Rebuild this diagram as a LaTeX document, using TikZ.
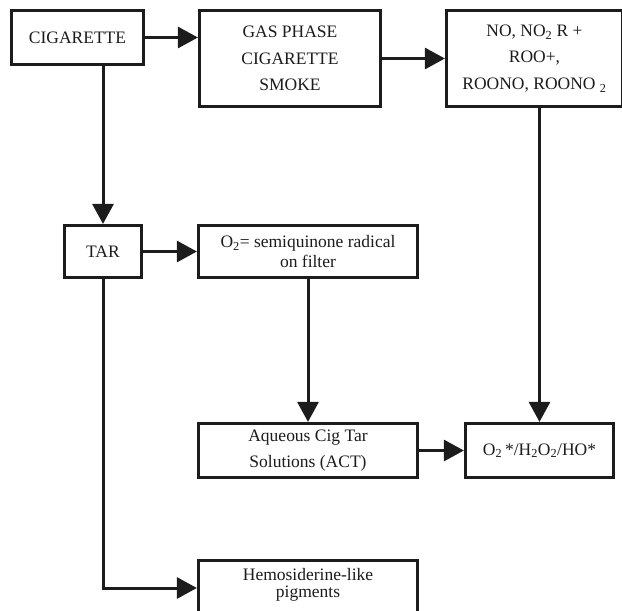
\documentclass[tikz,border=0pt]{standalone}
\usepackage{fontspec}
\setmainfont{Liberation Serif}
\usetikzlibrary{arrows.meta}
\definecolor{ink}{RGB}{28,28,28}
\begin{document}
\begin{tikzpicture}[x=1pt,y=-1pt,
  box/.style={draw=ink, line width=3.2pt, fill=white, inner sep=0pt, align=center, text=ink,
    font=\fontsize{17.5}{26.5}\selectfont},
  conn/.style={draw=ink, line width=3pt, -{Triangle[length=20pt,width=21pt]}}]
\useasboundingbox (0,0) rectangle (622,611);
\node[box, minimum width=132, minimum height=54] (cig) at (77.5,37.5) {CIGARETTE};
\node[box, minimum width=181, minimum height=96] (gas) at (290,58.5) {GAS PHASE\\CIGARETTE\\SMOKE};
\node[box, minimum width=176, minimum height=96] (no) at (534.5,58.5) {NO, NO\textsubscript{2} R +\\ROO+,\\ROONO, ROONO \textsubscript{2}};
\node[box, minimum width=77, minimum height=52] (tar) at (103,251.5) {TAR};
\node[box, minimum width=219, minimum height=52, font=\fontsize{17.5}{20}\selectfont] (o2) at (308,251.5) {O\textsubscript{2}= semiquinone radical\\on filter};
\node[box, minimum width=219, minimum height=54] (aq) at (308,450.5) {Aqueous Cig Tar\\Solutions (ACT)};
\node[box, minimum width=148, minimum height=54] (ros) at (539.5,450.5) {O\textsubscript{2}\,*/H\textsubscript{2}O\textsubscript{2}/HO*};
\node[box, minimum width=219, minimum height=55,
  label={[align=center, text=ink, font=\fontsize{17.5}{16.5}\selectfont, yshift=3pt]center:Hemosiderine-like\\pigments}] (hemo) at (308,588) {};
\draw[conn] (cig.east) -- (cig.east -| gas.west);
\draw[conn] (gas.east) -- (gas.east -| no.west);
\draw[conn] (cig.south -| tar.north) -- (tar.north);
\draw[conn] (tar.east) -- (tar.east -| o2.west);
\draw[conn] (o2.south) -- (aq.north);
\draw[conn] (ros.north |- no.south) -- (ros.north);
\draw[conn] (aq.east) -- (aq.east -| ros.west);
\draw[conn] (tar.south) |- (hemo.west);
\end{tikzpicture}
\end{document}
